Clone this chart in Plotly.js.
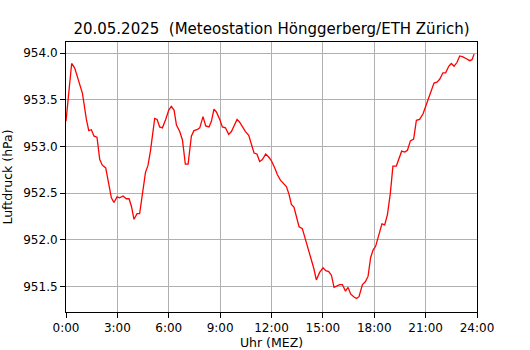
<!DOCTYPE html>
<html>
<head>
<meta charset="utf-8">
<script src="https://cdn.plot.ly/plotly-3.0.1.min.js"></script>
<style>html,body{margin:0;padding:0;background:#fff;}#chart{width:530px;height:350px;}</style>
</head>
<body>
<div id="chart"></div>
<script>
// time in hours (MEZ)
const hours = [0.00,0.33,0.51,0.96,1.19,1.33,1.48,1.64,1.81,1.97,2.12,2.32,2.65,2.80,2.98,3.13,3.33,3.52,3.68,3.82,3.97,4.15,4.30,4.64,4.79,4.93,5.18,5.32,5.47,5.63,5.82,6.00,6.15,6.31,6.45,6.64,6.80,6.97,7.13,7.32,7.47,7.65,7.81,8.00,8.16,8.35,8.49,8.64,8.78,8.98,9.13,9.31,9.50,9.66,9.81,9.99,10.14,10.30,10.48,10.67,10.83,10.98,11.15,11.31,11.47,11.66,11.82,11.99,12.19,12.34,12.52,12.71,12.87,13.02,13.16,13.31,13.61,13.80,14.04,14.29,14.46,14.62,14.81,15.01,15.17,15.34,15.50,15.65,15.83,15.98,16.14,16.32,16.47,16.62,16.80,16.96,17.11,17.31,17.48,17.64,17.79,17.93,18.08,18.26,18.45,18.61,18.77,18.94,19.09,19.29,19.45,19.60,19.78,19.94,20.11,20.30,20.46,20.65,20.85,21.00,21.18,21.34,21.49,21.66,21.82,22.01,22.17,22.35,22.50,22.66,22.83,22.99,23.18,23.38,23.57,23.71,23.83];
// air pressure (hPa)
const pressure = [953.27,953.89,953.84,953.57,953.29,953.17,953.18,953.11,953.10,952.86,952.80,952.77,952.45,952.40,952.46,952.45,952.47,952.44,952.44,952.36,952.22,952.28,952.28,952.72,952.80,952.95,953.30,953.29,953.21,953.20,953.29,953.39,953.43,953.39,953.23,953.16,953.07,952.81,952.81,953.11,953.17,953.18,953.20,953.32,953.22,953.21,953.27,953.40,953.37,953.29,953.21,953.20,953.13,953.16,953.22,953.29,953.26,953.21,953.16,953.12,953.02,952.93,952.92,952.84,952.86,952.92,952.89,952.85,952.77,952.70,952.64,952.60,952.57,952.49,952.38,952.35,952.14,952.12,951.97,951.83,951.70,951.57,951.65,951.70,951.67,951.66,951.62,951.49,951.51,951.52,951.52,951.45,951.49,951.42,951.39,951.37,951.39,951.52,951.55,951.61,951.81,951.89,951.93,952.04,952.17,952.16,952.27,952.50,952.79,952.79,952.88,952.95,952.94,952.96,953.06,953.08,953.28,953.29,953.35,953.43,953.52,953.59,953.68,953.69,953.72,953.79,953.79,953.86,953.89,953.86,953.90,953.97,953.96,953.94,953.92,953.93,953.99];
const xTickVals = [0,3,6,9,12,15,18,21,24];
const xTickText = ["0:00","3:00","6:00","9:00","12:00","15:00","18:00","21:00","24:00"];
const yTickVals = [951.5,952.0,952.5,953.0,953.5,954.0];
const yTickText = ["951.5","952.0","952.5","953.0","953.5","954.0"];

const trace = {x: hours, y: pressure, type: 'scatter', mode: 'lines',
  line: {color: '#ff0000', width: 1.3}, hoverinfo: 'skip'};

const axisCommon = {showline: true, linecolor: '#000', linewidth: 1, mirror: true,
  ticks: 'outside', ticklen: 5, tickwidth: 1, tickcolor: '#000',
  showgrid: true, gridcolor: '#b0b0b0', gridwidth: 1, zeroline: false,
  tickfont: {family: 'DejaVu Sans', size: 12, color: '#000'}};

const layout = {
  width: 530, height: 350,
  margin: {l: 66, r: 53, t: 42, b: 38},
  paper_bgcolor: '#fff', plot_bgcolor: '#fff',
  showlegend: false,
  font: {family: 'DejaVu Sans', color: '#000'},
  title: {text: '20.05.2025  (Meteostation Hönggerberg/ETH Zürich)',
    font: {family: 'DejaVu Sans', size: 15, color: '#000'},
    x: 0.5, xanchor: 'center', xref: 'paper', y: 1 - 29/350, yanchor: 'middle', yref: 'container'},
  xaxis: Object.assign({}, axisCommon, {range: [0, 24], tickvals: xTickVals, ticktext: xTickText,
    title: {text: 'Uhr (MEZ)', font: {family: 'DejaVu Sans', size: 12.5, color: '#000'}, standoff: 3}}),
  yaxis: Object.assign({}, axisCommon, {range: [951.226, 954.12], tickvals: yTickVals, ticktext: yTickText,
    title: {text: 'Luftdruck (hPa)', font: {family: 'DejaVu Sans', size: 12.5, color: '#000'}, standoff: 7}})
};
Plotly.newPlot('chart', [trace], layout, {staticPlot: true, displayModeBar: false});
</script>
</body>
</html>
